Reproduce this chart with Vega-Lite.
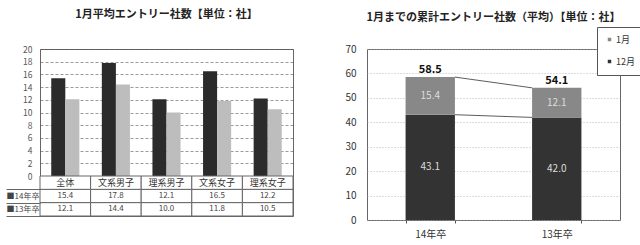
{
  "$schema": "https://vega.github.io/schema/vega-lite/v6.json",
  "padding": {"left": 0, "top": 8, "right": 0, "bottom": 0},
  "background": "white",
  "config": {
    "font": "Noto Sans CJK JP",
    "view": {"stroke": "#666", "strokeWidth": 1},
    "title": {"fontSize": 11, "fontWeight": "bold", "color": "#222", "frame": "group", "anchor": "middle"}
  },
  "datasets": {
    "entry": [
      {"cat": "全体", "year": "14年卒", "value": 15.4},
      {"cat": "文系男子", "year": "14年卒", "value": 17.8},
      {"cat": "理系男子", "year": "14年卒", "value": 12.1},
      {"cat": "文系女子", "year": "14年卒", "value": 16.5},
      {"cat": "理系女子", "year": "14年卒", "value": 12.2},
      {"cat": "全体", "year": "13年卒", "value": 12.1},
      {"cat": "文系男子", "year": "13年卒", "value": 14.4},
      {"cat": "理系男子", "year": "13年卒", "value": 10.0},
      {"cat": "文系女子", "year": "13年卒", "value": 11.8},
      {"cat": "理系女子", "year": "13年卒", "value": 10.5}
    ],
    "cum": [
      {"grad": "14年卒", "month": "12月", "value": 43.1},
      {"grad": "14年卒", "month": "1月", "value": 15.4},
      {"grad": "13年卒", "month": "12月", "value": 42.0},
      {"grad": "13年卒", "month": "1月", "value": 12.1}
    ],
    "links": [
      {"a": 58.5, "b": 54.1},
      {"a": 43.1, "b": 42.0}
    ]
  },
  "spacing": 42,
  "resolve": {
    "scale": {"x": "independent", "y": "independent", "color": "independent"},
    "axis": {"x": "independent", "y": "independent"},
    "legend": {"color": "independent"}
  },
  "hconcat": [
    {
      "spacing": 0,
      "bounds": "flush",
      "resolve": {
        "scale": {"x": "independent", "y": "independent", "color": "independent"},
        "axis": {"x": "independent", "y": "independent"}
      },
      "vconcat": [
        {
          "width": 253,
          "height": 127,
          "title": {"text": "1月平均エントリー社数【単位：社】", "offset": 25},
          "data": {"name": "entry"},
          "mark": {"type": "bar"},
          "encoding": {
            "x": {"field": "cat", "type": "nominal", "sort": ["全体", "文系男子", "理系男子", "文系女子", "理系女子"], "scale": {"paddingInner": 0, "paddingOuter": 0}, "axis": null},
            "xOffset": {"field": "year", "type": "nominal", "sort": ["14年卒", "13年卒"], "scale": {"paddingInner": 0, "paddingOuter": 0.8}},
            "y": {"field": "value", "type": "quantitative", "scale": {"domain": [0, 20]},
              "axis": {"values": [0, 2, 4, 6, 8, 10, 12, 14, 16, 18, 20], "title": null, "grid": true, "gridDash": [3, 2], "gridColor": "#555", "gridWidth": 0.6, "ticks": false, "domain": false, "labelOverlap": false, "labelFontSize": 8.5, "labelColor": "#555", "labelPadding": 8, "minExtent": 39, "maxExtent": 39}},
            "color": {"field": "year", "type": "nominal", "scale": {"domain": ["14年卒", "13年卒"], "range": ["#2b2b2b", "#bdbdbd"]}, "legend": null}
          }
        },
        {
          "width": 253,
          "height": 40,
          "data": {"name": "entry"},
          "layer": [
            {
              "mark": {"type": "rect", "fill": "white", "stroke": "#666", "strokeWidth": 1},
              "encoding": {
                "x": {"field": "cat", "type": "nominal", "sort": ["全体", "文系男子", "理系男子", "文系女子", "理系女子"], "scale": {"paddingInner": 0, "paddingOuter": 0}, "axis": null},
                "y": {"field": "year", "type": "nominal", "scale": {"domain": ["h", "14年卒", "13年卒"], "paddingInner": 0, "paddingOuter": 0},
                  "axis": {"values": ["14年卒", "13年卒"], "title": null, "labelExpr": "datum.value ? '■' + datum.value : ''", "tickBand": "extent", "tickSize": 34, "tickColor": "#666", "domain": false, "labelAlign": "left", "labelPadding": 0, "labelOverlap": false, "labelFontSize": 8, "labelColor": "#444", "minExtent": 39, "maxExtent": 39}}
              }
            },
            {
              "transform": [{"filter": "datum.year === '14年卒'"}],
              "mark": {"type": "rect", "fill": "white", "stroke": "#666", "strokeWidth": 1},
              "encoding": {
                "x": {"field": "cat", "type": "nominal", "sort": ["全体", "文系男子", "理系男子", "文系女子", "理系女子"]},
                "y": {"datum": "h", "type": "nominal"}
              }
            },
            {
              "mark": {"type": "text", "fontSize": 8, "color": "#444"},
              "encoding": {
                "x": {"field": "cat", "type": "nominal", "sort": ["全体", "文系男子", "理系男子", "文系女子", "理系女子"]},
                "y": {"field": "year", "type": "nominal"},
                "text": {"field": "value", "type": "quantitative", "format": ".1f"}
              }
            },
            {
              "transform": [{"filter": "datum.year === '14年卒'"}],
              "mark": {"type": "text", "fontSize": 9, "color": "#333"},
              "encoding": {
                "x": {"field": "cat", "type": "nominal", "sort": ["全体", "文系男子", "理系男子", "文系女子", "理系女子"]},
                "y": {"datum": "h", "type": "nominal"},
                "text": {"field": "cat", "type": "nominal"}
              }
            }
          ]
        }
      ]
    },
    {
      "width": 253,
      "height": 171,
      "title": {"text": "1月までの累計エントリー社数（平均）【単位：社】", "offset": 4},
      "layer": [
        {
          "data": {"name": "cum"},
          "mark": {"type": "bar"},
          "encoding": {
            "x": {"field": "grad", "type": "nominal", "sort": ["14年卒", "13年卒"], "scale": {"paddingInner": 0.61, "paddingOuter": 0.305},
              "axis": {"title": null, "labelAngle": 0, "labelFontSize": 10, "labelColor": "#333", "tickBand": "extent", "ticks": true, "tickSize": 3, "tickColor": "#555", "domain": false, "labelPadding": 6}},
            "y": {"field": "value", "type": "quantitative", "stack": "zero", "scale": {"domain": [0, 70]},
              "axis": {"values": [0, 10, 20, 30, 40, 50, 60, 70], "title": null, "grid": true, "gridColor": "#aaa", "gridDash": [1, 2], "gridWidth": 0.8, "ticks": false, "domain": false, "labelOverlap": false, "labelFontSize": 10, "labelColor": "#333", "labelPadding": 11, "minExtent": 30, "maxExtent": 30}},
            "color": {"field": "month", "type": "nominal", "scale": {"domain": ["1月", "12月"], "range": ["#888888", "#333333"]},
              "legend": {"title": null, "orient": "none", "legendX": 230, "legendY": -22, "direction": "vertical", "strokeColor": "#555", "fillColor": "white", "padding": 8, "symbolType": "square", "symbolSize": 12, "labelFontSize": 9, "labelColor": "#333", "rowPadding": 12, "labelOffset": 2}},
            "order": {"field": "month", "sort": "ascending"}
          }
        },
        {
          "data": {"name": "cum"},
          "transform": [
            {"stack": "value", "groupby": ["grad"], "sort": [{"field": "month", "order": "ascending"}], "as": ["v0", "v1"]},
            {"calculate": "(datum.v0 + datum.v1) / 2", "as": "mid"}
          ],
          "mark": {"type": "text", "fontSize": 10, "color": "#dddddd"},
          "encoding": {
            "x": {"field": "grad", "type": "nominal", "sort": ["14年卒", "13年卒"]},
            "y": {"field": "mid", "type": "quantitative",
              "axis": {"values": [0, 10, 20, 30, 40, 50, 60, 70], "title": null, "grid": true, "gridColor": "#aaa", "gridDash": [1, 2], "gridWidth": 0.8, "ticks": false, "domain": false, "labelOverlap": false, "labelFontSize": 10, "labelColor": "#333", "labelPadding": 11, "minExtent": 30, "maxExtent": 30}},
            "text": {"field": "value", "type": "quantitative", "format": ".1f"}
          }
        },
        {
          "data": {"name": "cum"},
          "transform": [{"aggregate": [{"op": "sum", "field": "value", "as": "total"}], "groupby": ["grad"]}],
          "mark": {"type": "text", "fontSize": 11, "fontWeight": "bold", "color": "#111", "baseline": "bottom", "dy": -2},
          "encoding": {
            "x": {"field": "grad", "type": "nominal", "sort": ["14年卒", "13年卒"]},
            "y": {"field": "total", "type": "quantitative",
              "axis": {"values": [0, 10, 20, 30, 40, 50, 60, 70], "title": null, "grid": true, "gridColor": "#aaa", "gridDash": [1, 2], "gridWidth": 0.8, "ticks": false, "domain": false, "labelOverlap": false, "labelFontSize": 10, "labelColor": "#333", "labelPadding": 11, "minExtent": 30, "maxExtent": 30}},
            "text": {"field": "total", "type": "quantitative", "format": ".1f"}
          }
        },
        {
          "data": {"name": "links"},
          "mark": {"type": "rule", "color": "#333", "strokeWidth": 0.8},
          "encoding": {
            "x": {"datum": "14年卒", "type": "nominal", "bandPosition": 1},
            "x2": {"datum": "13年卒", "bandPosition": 0},
            "y": {"field": "a", "type": "quantitative",
              "axis": {"values": [0, 10, 20, 30, 40, 50, 60, 70], "title": null, "grid": true, "gridColor": "#aaa", "gridDash": [1, 2], "gridWidth": 0.8, "ticks": false, "domain": false, "labelOverlap": false, "labelFontSize": 10, "labelColor": "#333", "labelPadding": 11, "minExtent": 30, "maxExtent": 30}},
            "y2": {"field": "b"}
          }
        }
      ]
    }
  ]
}
